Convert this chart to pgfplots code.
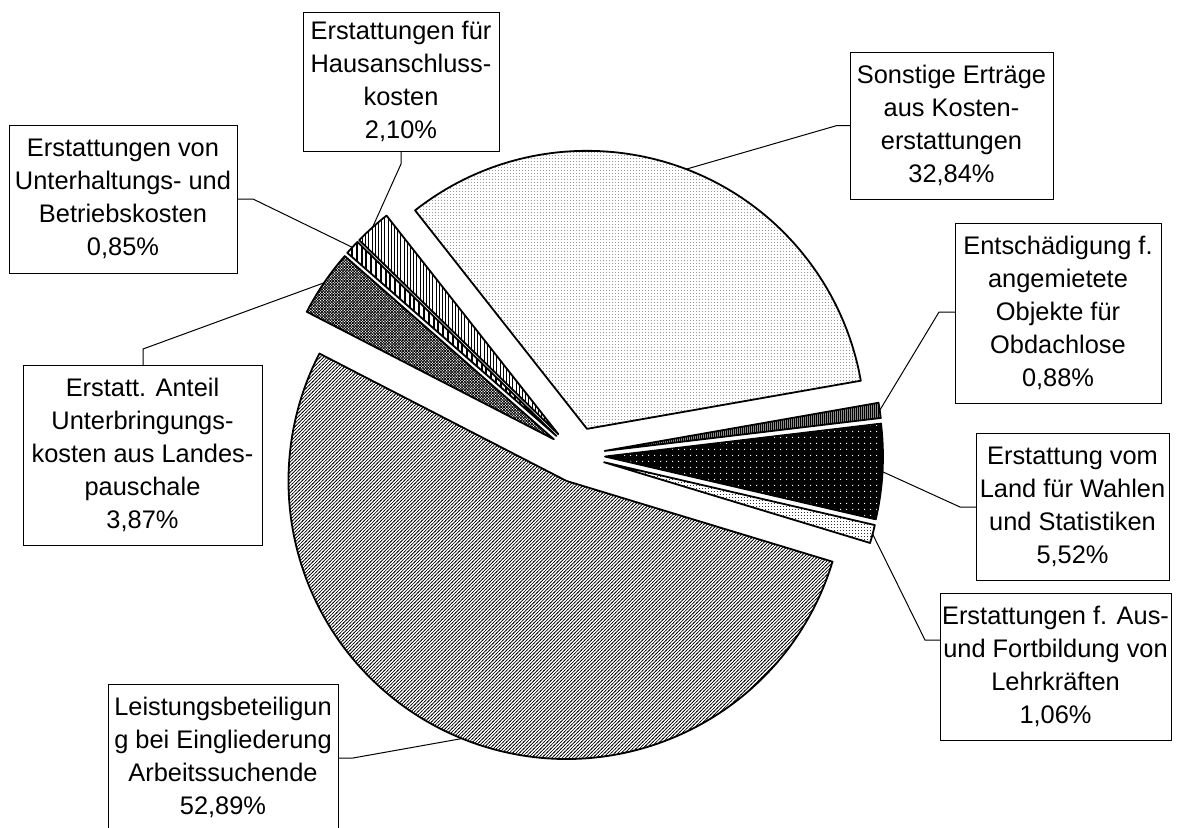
\documentclass[border=0pt]{standalone}
\usepackage{fontspec}
\setmainfont{Liberation Sans}
\usepackage{pgfplots}
\usepackage{pgfplotstable}
\pgfplotsset{compat=1.18}
\usetikzlibrary{patterns}

% fill patterns for the slices
\pgfdeclarepatternformonly{fdots}{\pgfqpoint{0pt}{0pt}}{\pgfqpoint{1.5pt}{1.5pt}}{\pgfqpoint{1.5pt}{1.5pt}}%
  {\pgfpathrectangle{\pgfqpoint{0pt}{0pt}}{\pgfqpoint{0.55pt}{0.55pt}}\pgfusepath{fill}}
\pgfdeclarepatternformonly{sdots}{\pgfqpoint{0pt}{0pt}}{\pgfqpoint{3pt}{3pt}}{\pgfqpoint{3pt}{3pt}}%
  {\pgfpathrectangle{\pgfqpoint{0pt}{0pt}}{\pgfqpoint{0.6pt}{0.6pt}}\pgfusepath{fill}}
\pgfdeclarepatternformonly{nelines}{\pgfqpoint{-1pt}{-1pt}}{\pgfqpoint{2.7pt}{2.7pt}}{\pgfqpoint{1.7pt}{1.7pt}}%
  {\pgfsetlinewidth{0.32pt}\pgfpathmoveto{\pgfqpoint{-0.3pt}{-0.3pt}}\pgfpathlineto{\pgfqpoint{2pt}{2pt}}\pgfusepath{stroke}}
\pgfdeclarepatternformonly{xlines}{\pgfqpoint{-1pt}{-1pt}}{\pgfqpoint{2.4pt}{2.4pt}}{\pgfqpoint{1.4pt}{1.4pt}}%
  {\pgfsetlinewidth{0.25pt}\pgfpathmoveto{\pgfqpoint{-0.3pt}{-0.3pt}}\pgfpathlineto{\pgfqpoint{1.7pt}{1.7pt}}%
   \pgfpathmoveto{\pgfqpoint{-0.3pt}{1.7pt}}\pgfpathlineto{\pgfqpoint{1.7pt}{-0.3pt}}\pgfusepath{stroke}}
\pgfdeclarepatternformonly{vthin}{\pgfqpoint{0pt}{-0.5pt}}{\pgfqpoint{1.6pt}{2.1pt}}{\pgfqpoint{1.6pt}{1.6pt}}%
  {\pgfsetlinewidth{0.35pt}\pgfpathmoveto{\pgfqpoint{0.4pt}{-0.5pt}}\pgfpathlineto{\pgfqpoint{0.4pt}{2.1pt}}\pgfusepath{stroke}}
\pgfdeclarepatternformonly{vthick}{\pgfqpoint{0pt}{-0.5pt}}{\pgfqpoint{2.4pt}{2.9pt}}{\pgfqpoint{2.4pt}{2.4pt}}%
  {\pgfsetlinewidth{1pt}\pgfpathmoveto{\pgfqpoint{0.8pt}{-0.5pt}}\pgfpathlineto{\pgfqpoint{0.8pt}{2.9pt}}\pgfusepath{stroke}}
\pgfdeclarepatternformonly{vdense}{\pgfqpoint{0pt}{-0.5pt}}{\pgfqpoint{1pt}{1.5pt}}{\pgfqpoint{1pt}{1pt}}%
  {\pgfsetlinewidth{0.5pt}\pgfpathmoveto{\pgfqpoint{0.3pt}{-0.5pt}}\pgfpathlineto{\pgfqpoint{0.3pt}{1.5pt}}\pgfusepath{stroke}}

\tikzset{
  slice/.style={draw=black, line width=0.9pt, line join=round},
  pS/.style={slice, preaction={fill=white}, pattern=fdots, pattern color=gray!80},
  pE/.style={slice, preaction={fill=black!45}, pattern=vdense, pattern color=black},
  pL/.style={slice, preaction={fill=black}, pattern=sdots, pattern color=white},
  pA/.style={slice, preaction={fill=white}, pattern=fdots, pattern color=black!80},
  pB/.style={slice, preaction={fill=white}, pattern=nelines, pattern color=black},
  pU/.style={slice, preaction={fill=white}, pattern=xlines, pattern color=black},
  pH/.style={slice, preaction={fill=white}, pattern=vthick, pattern color=black},
  pK/.style={slice, preaction={fill=white}, pattern=vthin, pattern color=black},
  lbl/.style={draw=black, line width=0.5pt, fill=white, align=center, inner sep=0pt,
    font=\fontsize{12.7}{16.5}\selectfont},
  lead/.style={draw=black, line width=0.5pt},
}

% shares in percent, clockwise
\pgfplotstableread{
share style
32.84 pS
0.88  pE
5.52  pL
1.06  pA
52.89 pB
3.87  pU
0.85  pH
2.10  pK
}\slices

\def\CX{577}\def\CY{372}\def\R{278}\def\D{28}
\newcommand\PX[2]{(axis cs:#1,{827-#2})}

\begin{document}
\begin{tikzpicture}
\begin{axis}[x=0.5pt, y=0.5pt, xmin=0, xmax=1182, ymin=0, ymax=827,
  hide axis, clip=false]
\coordinate (BL) at (axis cs:0,0);
\coordinate (TR) at (axis cs:1182,827);
\pgfplotstablegetrowsof{\slices}
\pgfmathtruncatemacro\nrows{\pgfplotsretval-1}
\xdef\acur{128.2}
\foreach \r in {0,...,\nrows}{
  \pgfplotstablegetelem{\r}{share}\of\slices \let\v\pgfplotsretval
  \pgfplotstablegetelem{\r}{style}\of\slices \let\sty\pgfplotsretval
  \pgfmathsetmacro\aend{\acur-3.6*\v}
  \pgfmathsetmacro\amid{(\acur+\aend)/2}
  \pgfmathsetmacro\px{\CX+\D*cos(\amid)}
  \pgfmathsetmacro\py{\CY+\D*sin(\amid)}
  \pgfmathsetmacro\sx{\px+\R*cos(\acur)}
  \pgfmathsetmacro\sy{\py+\R*sin(\acur)}
  \pgfmathsetmacro\ox{\px+\R*cos(\amid)}
  \pgfmathsetmacro\oy{\py+\R*sin(\amid)}
  \edef\doslice{\noexpand\draw[\sty] (axis cs:\px,\py) -- (axis cs:\sx,\sy)
     arc[start angle=\acur, end angle=\aend, radius=139pt] -- cycle;
     \noexpand\coordinate (o\r) at (axis cs:\ox,\oy);}
  \doslice
  \xdef\acur{\aend}
}

% leader lines
\draw[lead] \PX{850}{125.5} -- \PX{837}{125.5} -- (o0);
\draw[lead] \PX{955}{312} -- \PX{939}{312} -- (o1);
\draw[lead] \PX{976}{507} -- \PX{960}{507} -- (o2);
\draw[lead] \PX{940}{640} -- \PX{925}{640} -- (o3);
\draw[lead] \PX{338}{758} -- \PX{353}{758} -- (o4);
\draw[lead] \PX{143}{365} -- \PX{143}{349} -- (o5);
\draw[lead] \PX{237}{199} -- \PX{253}{199} -- (o6);
\draw[lead] \PX{401}{151} -- \PX{401}{164} -- (o7);

% data labels
\node[lbl, minimum width=101.5pt, minimum height=73.5pt] at \PX{951.5}{125.5}
  {Sonstige Erträge\\aus Kosten-\\erstattungen\\32,84\%};
\node[lbl, minimum width=103pt, minimum height=90pt] at \PX{1058}{313}
  {Entschädigung f.\\angemietete\\Objekte für\\Obdachlose\\0,88\%};
\node[lbl, minimum width=96.5pt, minimum height=73.5pt] at \PX{1072.5}{506.5}
  {Erstattung vom\\Land für Wahlen\\und Statistiken\\5,52\%};
\node[lbl, minimum width=115.5pt, minimum height=73.5pt] at \PX{1055.5}{666.5}
  {Erstattungen f. Aus-\\und Fortbildung von\\Lehrkräften\\1,06\%};
\node[lbl, minimum width=115pt, minimum height=73.5pt] at \PX{223}{757.5}
  {Leistungsbeteiligun\\g bei Eingliederung\\Arbeitssuchende\\52,89\%};
\node[lbl, minimum width=119.5pt, minimum height=90pt] at \PX{142.5}{455}
  {Erstatt. Anteil\\Unterbringungs-\\kosten aus Landes-\\pauschale\\3,87\%};
\node[lbl, minimum width=114pt, minimum height=74pt] at \PX{123}{199}
  {Erstattungen von\\Unterhaltungs- und\\Betriebskosten\\0,85\%};
\node[lbl, minimum width=98pt, minimum height=69.5pt] at \PX{401}{81.5}
  {Erstattungen für\\Hausanschluss-\\kosten\\2,10\%};
\end{axis}
\pgfresetboundingbox
\path[use as bounding box] (BL) rectangle (TR);
\end{tikzpicture}
\end{document}
